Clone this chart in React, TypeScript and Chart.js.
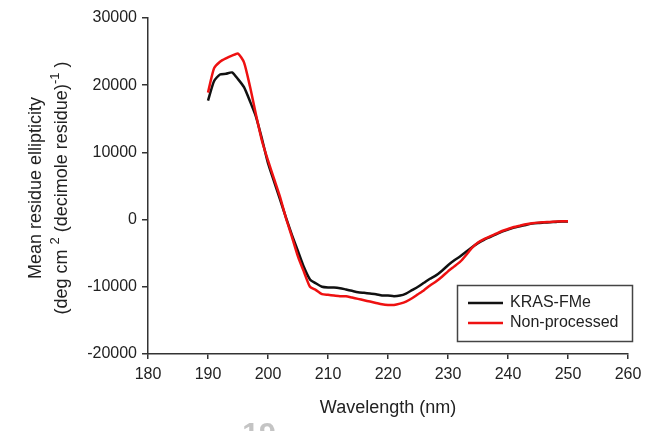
import React, { useEffect, useRef } from "react";
import { Chart, registerables } from "chart.js";

Chart.register(...registerables);

const wavelengths = [
  190, 191, 192, 193, 194, 195, 196, 197, 198, 199, 200, 201, 202, 203, 204, 205, 206, 207, 208, 209,
  210, 211, 212, 213, 214, 215, 216, 217, 218, 219, 220, 221, 222, 223, 224, 225, 226, 227, 228, 229,
  230, 231, 232, 233, 234, 235, 236, 237, 238, 239, 240, 241, 242, 243, 244, 245, 246, 247, 248, 249, 250,
];

const krasFMe = [
  17700, 20600, 21600, 21700, 21900, 20900, 19700, 17600, 15300, 12000, 8400, 5700, 3000, 300, -2300,
  -4700, -7100, -8900, -9500, -10000, -10100, -10100, -10200, -10400, -10600, -10800, -10900, -11000,
  -11100, -11300, -11300, -11400, -11300, -11000, -10500, -10000, -9400, -8800, -8300, -7600, -6800,
  -6100, -5500, -4800, -4100, -3500, -3000, -2600, -2200, -1800, -1500, -1200, -1000, -800, -600, -500,
  -450, -400, -350, -300, -300,
];

const nonProcessed = [
  18900, 22500, 23500, 24000, 24400, 24700, 23400, 19800, 15600, 11700, 8800, 6100, 3400, 200, -2600,
  -5500, -7800, -10000, -10500, -11100, -11200, -11300, -11400, -11400, -11600, -11800, -12000, -12200,
  -12400, -12600, -12700, -12700, -12500, -12200, -11700, -11100, -10500, -9800, -9200, -8500, -7700,
  -7000, -6300, -5300, -4200, -3400, -2900, -2500, -2100, -1700, -1400, -1100, -900, -700, -550, -450,
  -400, -350, -300, -250, -250,
];

const seriesLabels = ["KRAS-FMe", "Non-processed"];
const seriesColors = ["#111111", "#ee1111"];
const xTitle = "Wavelength (nm)";
const yTitleLine1 = "Mean residue ellipticity";
const watermark = "19";

const FONT = "'Liberation Sans', Arial, sans-serif";
const TEXT = "#222222";
const AXIS = "#333333";

const overlayPlugin = {
  id: "overlay",
  afterDraw(chart: any) {
    const ctx = chart.ctx as CanvasRenderingContext2D;
    const area = chart.chartArea;
    ctx.save();
    ctx.fillStyle = TEXT;

    // x title
    ctx.font = `18px ${FONT}`;
    ctx.textAlign = "center";
    ctx.textBaseline = "middle";
    ctx.fillText(xTitle, (area.left + area.right) / 2, 408);

    // y title (rotated)
    const cy = (area.top + area.bottom) / 2 + 2;
    ctx.save();
    ctx.translate(36, cy);
    ctx.rotate(-Math.PI / 2);
    ctx.font = `18px ${FONT}`;
    ctx.textAlign = "center";
    ctx.textBaseline = "middle";
    ctx.fillText(yTitleLine1, 0, 0);
    ctx.restore();

    ctx.save();
    ctx.translate(62, cy);
    ctx.rotate(-Math.PI / 2);
    const parts: [string, boolean][] = [
      ["(deg cm ", false],
      ["2", true],
      [" (decimole residue)", false],
      ["-1", true],
      [" )", false],
    ];
    const big = `18px ${FONT}`;
    const small = `13px ${FONT}`;
    let total = 0;
    for (const [t, sup] of parts) {
      ctx.font = sup ? small : big;
      total += ctx.measureText(t).width;
    }
    let x = -total / 2;
    ctx.textAlign = "left";
    ctx.textBaseline = "middle";
    for (const [t, sup] of parts) {
      ctx.font = sup ? small : big;
      ctx.fillText(t, x, sup ? -7 : 0);
      x += ctx.measureText(t).width;
    }
    ctx.restore();

    // legend box
    const lx = 457.5;
    const ly = 285.5;
    const lw = 175;
    const lh = 56;
    ctx.fillStyle = "#ffffff";
    ctx.fillRect(lx, ly, lw, lh);
    ctx.strokeStyle = "#444444";
    ctx.lineWidth = 1.5;
    ctx.strokeRect(lx, ly, lw, lh);
    ctx.font = `16px ${FONT}`;
    ctx.textAlign = "left";
    ctx.textBaseline = "middle";
    seriesLabels.forEach((label, i) => {
      const yy = 303 + i * 20;
      ctx.strokeStyle = seriesColors[i];
      ctx.lineWidth = 2.5;
      ctx.beginPath();
      ctx.moveTo(468, yy);
      ctx.lineTo(503, yy);
      ctx.stroke();
      ctx.fillStyle = TEXT;
      ctx.fillText(label, 510, yy);
    });

    // faint page-number artifact at bottom
    ctx.fillStyle = "#c4c4c4";
    ctx.font = `bold 30px ${FONT}`;
    ctx.textAlign = "center";
    ctx.textBaseline = "alphabetic";
    ctx.fillText(watermark, 259, 443);

    ctx.restore();
  },
};

export default function App() {
  const ref = useRef<HTMLCanvasElement | null>(null);

  useEffect(() => {
    if (!ref.current) return;
    const chart = new Chart(ref.current, {
      type: "line",
      data: {
        datasets: [
          {
            label: seriesLabels[0],
            data: wavelengths.map((w, i) => ({ x: w, y: krasFMe[i] })),
            borderColor: seriesColors[0],
            borderWidth: 2.5,
            pointRadius: 0,
            tension: 0.2,
            fill: false,
            order: 1,
          },
          {
            label: seriesLabels[1],
            data: wavelengths.map((w, i) => ({ x: w, y: nonProcessed[i] })),
            borderColor: seriesColors[1],
            borderWidth: 2.5,
            pointRadius: 0,
            tension: 0.2,
            fill: false,
            order: 0,
          },
        ],
      },
      options: {
        responsive: false,
        animation: false,
        layout: { padding: { top: 18, right: 28, bottom: 0, left: 0 } },
        plugins: {
          legend: { display: false },
          tooltip: { enabled: false },
          title: { display: false },
        },
        scales: {
          x: {
            type: "linear",
            min: 180,
            max: 260,
            ticks: {
              stepSize: 10,
              color: TEXT,
              font: { family: FONT, size: 16 },
              padding: 6,
              maxRotation: 0,
              callback: (v: any) => String(v),
            },
            grid: {
              drawOnChartArea: false,
              drawTicks: true,
              tickLength: 5,
              color: AXIS,
              lineWidth: 1.5,
            },
            border: { display: true, color: AXIS, width: 1.5 },
            afterFit: (scale: any) => {
              scale.height = 77;
            },
          },
          y: {
            type: "linear",
            min: -20000,
            max: 30000,
            ticks: {
              stepSize: 10000,
              color: TEXT,
              font: { family: FONT, size: 16 },
              padding: 5,
              callback: (v: any) => String(v),
            },
            grid: {
              drawOnChartArea: false,
              drawTicks: true,
              tickLength: 6,
              color: AXIS,
              lineWidth: 1.5,
            },
            border: { display: true, color: AXIS, width: 1.5 },
            afterFit: (scale: any) => {
              scale.width = 148;
            },
          },
        },
      },
      plugins: [overlayPlugin],
    } as any);
    return () => chart.destroy();
  }, []);

  return (
    <div style={{ position: "absolute", left: 0, top: 0, width: 656, height: 431, background: "#fff" }}>
      <canvas ref={ref} width={656} height={431} style={{ display: "block" }} />
    </div>
  );
}
